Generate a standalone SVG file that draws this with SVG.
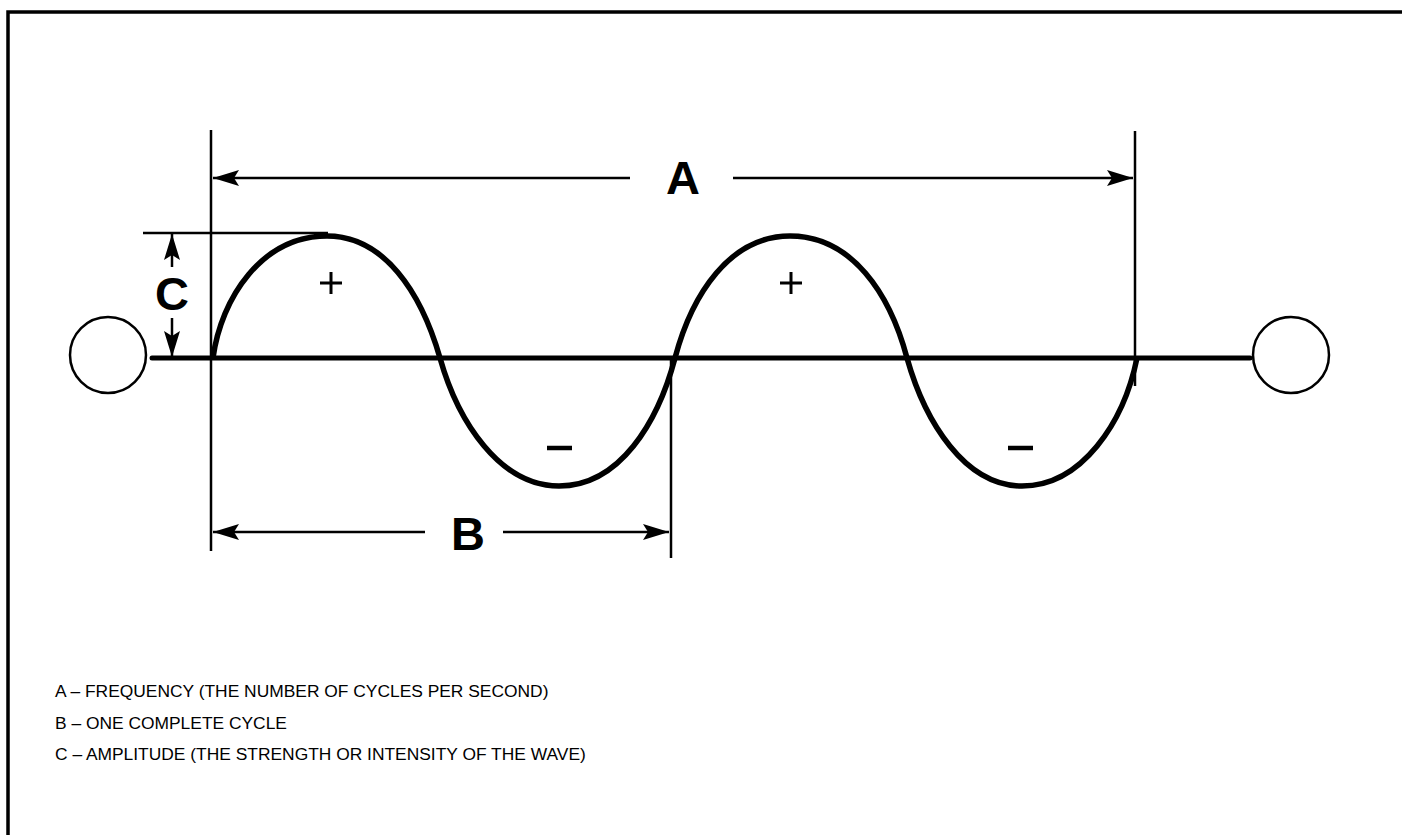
<svg xmlns="http://www.w3.org/2000/svg" width="1402" height="835" viewBox="0 0 1402 835">
<style>
.frame{fill:none;stroke:#000;stroke-width:3.5}
.thin{fill:none;stroke:#000;stroke-width:2.5}
.axis{fill:none;stroke:#000;stroke-width:5;stroke-linecap:round}
.wave{fill:none;stroke:#000;stroke-width:5.5;stroke-linejoin:round}
.dim{fill:none;stroke:#000;stroke-width:2.5}
.circ{fill:#fff;stroke:#000;stroke-width:2.5}
.big{font-family:"Liberation Sans",Arial,sans-serif;font-weight:bold;font-size:47px;fill:#000;text-anchor:middle}
.leg{font-family:"Liberation Sans",Arial,sans-serif;font-size:17.4px;fill:#000}
.sign{fill:none;stroke:#000;stroke-width:3}
</style>
<defs>
<marker id="ah" viewBox="0 0 26 16" refX="26" refY="8" markerWidth="26" markerHeight="16" markerUnits="userSpaceOnUse" orient="auto">
<path d="M0,0 L26,8 L0,16 L5,8 Z" fill="#000"/>
</marker>
</defs>
<rect width="1402" height="835" fill="#fff"/>
<path class="frame" d="M8,835 V12 H1402"/>

<g id="connectors">
<line class="thin" x1="211" y1="130" x2="211" y2="551"/>
<line class="thin" x1="1135" y1="131" x2="1135" y2="386"/>
<line class="thin" x1="671" y1="358" x2="671" y2="558"/>
<line class="thin" x1="143" y1="233" x2="328" y2="233"/>
<line class="dim" x1="630" y1="178" x2="213" y2="178" marker-end="url(#ah)"/>
<line class="dim" x1="733" y1="178" x2="1133" y2="178" marker-end="url(#ah)"/>
<line class="dim" x1="425" y1="532" x2="213" y2="532" marker-end="url(#ah)"/>
<line class="dim" x1="503" y1="532" x2="669" y2="532" marker-end="url(#ah)"/>
<line class="dim" x1="172" y1="267" x2="172" y2="234" marker-end="url(#ah)"/>
<line class="dim" x1="172" y1="318" x2="172" y2="357" marker-end="url(#ah)"/>
</g>

<g id="axis">
<line class="axis" x1="152" y1="358" x2="1250" y2="358"/>
</g>
<g id="left-terminal"><circle class="circ" cx="108" cy="355" r="38"/></g>
<g id="right-terminal"><circle class="circ" cx="1291" cy="355" r="38"/></g>

<g id="wave">
<path class="wave" d="M213,358 C221,298 262,236 327,236 C384,236 421,292 440,358 C458,422 500,486 559,486 C620,486 658,422 675,358 C692,294 730,236 790,236 C852,236 890,294 907,358 C925,422 965,486 1022,486 C1082,486 1124,422 1137,358"/>
</g>

<g id="signs">
<path class="sign" d="M320,283 H342 M331,272 V294"/>
<path class="sign" d="M780,283 H802 M791,272 V294"/>
<line x1="547" y1="448" x2="572" y2="448" stroke="#000" stroke-width="4.5"/>
<line x1="1008" y1="448" x2="1033" y2="448" stroke="#000" stroke-width="4.5"/>
</g>

<g id="label-A"><text class="big" x="683" y="194">A</text></g>
<g id="label-B"><text class="big" x="468" y="550">B</text></g>
<g id="label-C"><text class="big" x="172" y="310">C</text></g>

<g id="legend">
<text class="leg" x="55" y="697">A – FREQUENCY (THE NUMBER OF CYCLES PER SECOND)</text>
<text class="leg" x="55" y="729">B – ONE COMPLETE CYCLE</text>
<text class="leg" x="55" y="760">C – AMPLITUDE (THE STRENGTH OR INTENSITY OF THE WAVE)</text>
</g>
</svg>
